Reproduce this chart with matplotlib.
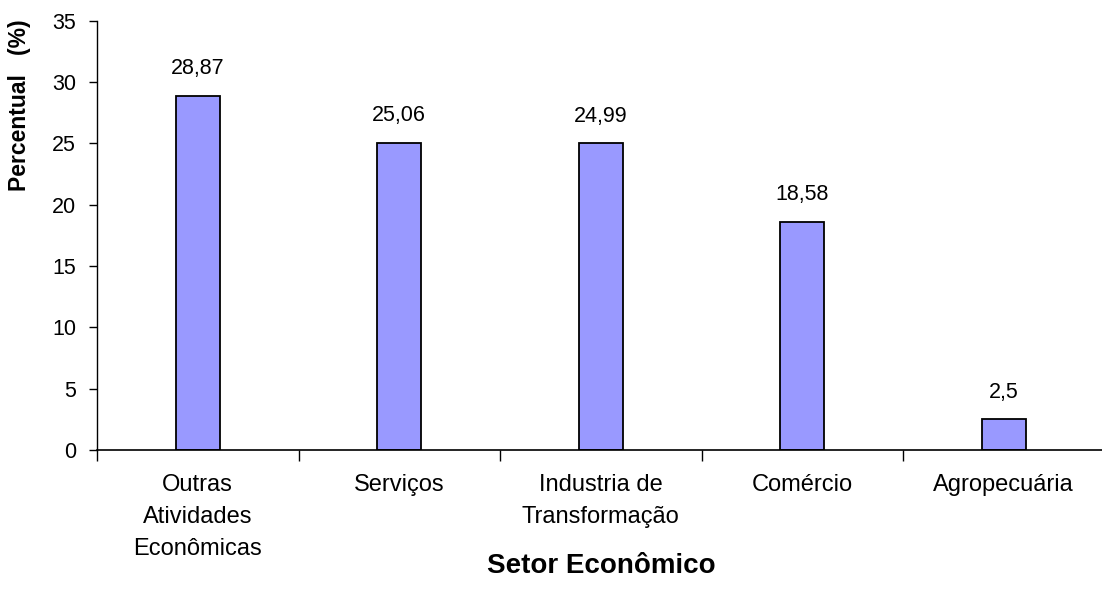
import numpy as np
import matplotlib
matplotlib.use('Agg')
import matplotlib.pyplot as plt

plt.rcParams['font.family'] = ['Liberation Sans', 'DejaVu Sans']

# percentual por setor economico
setores = ['Outras\nAtividades\nEconômicas', 'Serviços',
           'Industria de\nTransformação', 'Comércio', 'Agropecuária']
percentual = [28.87, 25.06, 24.99, 18.58, 2.5]
rotulos = ['28,87', '25,06', '24,99', '18,58', '2,5']

fig = plt.figure(figsize=(11.02, 6.05), dpi=100)
W, H = 1102., 605.
# axes placed in pixel terms, right edge runs slightly past the figure
x0, x1 = 97., 1104.5
y0, y1 = 450., 20.7
ax = fig.add_axes([x0 / W, 1 - y0 / H, (x1 - x0) / W, (y0 - y1) / H])

pos = np.arange(len(setores))
ax.bar(pos, percentual, width=0.22, color='#9999FF', edgecolor='black', linewidth=1.3)
for p, v, t in zip(pos, percentual, rotulos):
    ax.annotate(t, (p, v), xytext=(0, 12), textcoords='offset points',
                ha='center', va='bottom', fontsize=15.5)

ax.set_xlim(-0.5, len(setores) - 0.5)
ax.set_ylim(0, 35)
ax.set_yticks(np.arange(0, 36, 5))
ax.tick_params(axis='y', labelsize=15.5, length=6, direction='out', width=1, pad=9)

# category labels in the middle, ticks between categories
ax.set_xticks(pos)
ax.set_xticklabels(setores, fontsize=17, linespacing=1.6, va='top')
ax.tick_params(axis='x', which='major', length=0, pad=17)
ax.set_xticks(np.arange(-0.5, len(setores), 1.0), minor=True)
ax.tick_params(axis='x', which='minor', length=8, direction='out', width=1)

for s in ['top', 'right']:
    ax.spines[s].set_visible(False)
ax.spines['left'].set_linewidth(1)
ax.spines['bottom'].set_linewidth(1.2)

fig.text(601 / W, 1 - 566 / H, 'Setor Econômico', fontsize=20, fontweight='bold',
         ha='center', va='center')
fig.text(20 / W, 1 - 105 / H, 'Percentual   (%)', fontsize=16.5, fontweight='bold',
         rotation=90, ha='center', va='center')

fig.savefig('out.png', dpi=100)
